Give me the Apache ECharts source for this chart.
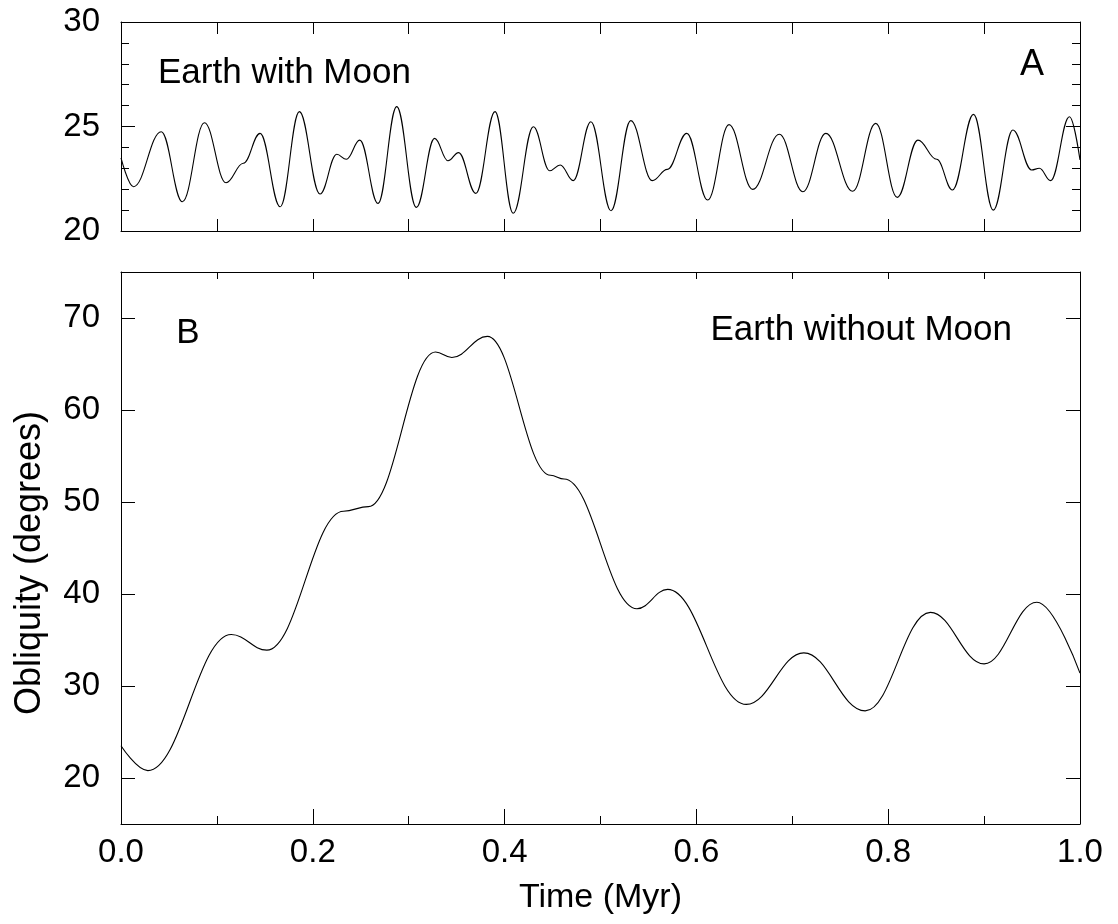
<!DOCTYPE html>
<html><head><meta charset="utf-8">
<script src="https://cdn.jsdelivr.net/npm/echarts@6/dist/echarts.min.js"></script>
<style>html,body{margin:0;padding:0;background:#fff}#c{width:1118px;height:924px}</style>
</head><body><div id="c"></div>
<script>
// Panel A: Earth with Moon (time in Myr, obliquity in degrees)
const timeWithMoon = [0, 0.013, 0.042, 0.064, 0.087, 0.1095, 0.1276, 0.145, 0.166, 0.186, 0.2075, 0.225, 0.235, 0.249, 0.268, 0.2875, 0.308, 0.327, 0.341, 0.352, 0.37, 0.39, 0.409, 0.43, 0.447, 0.458, 0.4716, 0.49, 0.511, 0.5315, 0.554, 0.5697, 0.59, 0.6117, 0.634, 0.6587, 0.6865, 0.711, 0.735, 0.763, 0.787, 0.8095, 0.831, 0.8506, 0.867, 0.889, 0.9096, 0.93, 0.9496, 0.9576, 0.9694, 0.989, 1.0];
const obliquityWithMoon = [23.5, 22.12, 24.75, 21.4, 25.18, 22.31, 23.24, 24.67, 21.16, 25.71, 21.77, 23.67, 23.43, 24.35, 21.32, 25.95, 21.13, 24.43, 23.36, 23.75, 21.8, 25.71, 20.85, 24.99, 22.88, 23.16, 22.41, 25.23, 20.97, 25.28, 22.41, 22.95, 24.67, 21.48, 25.09, 21.99, 24.63, 21.88, 24.67, 21.9, 25.15, 21.61, 24.35, 23.43, 21.96, 25.58, 21.0, 24.83, 22.92, 23.0, 22.41, 25.47, 23.4];
// Panel B: Earth without Moon
const timeWithoutMoon = [0, 0.028, 0.115, 0.152, 0.232, 0.258, 0.328, 0.345, 0.382, 0.448, 0.462, 0.538, 0.57, 0.652, 0.712, 0.776, 0.844, 0.9, 0.955, 1.0];
const obliquityWithoutMoon = [23.5, 20.8, 35.6, 33.9, 49.0, 49.5, 66.3, 65.7, 68.0, 52.9, 52.5, 38.4, 40.5, 28.0, 33.6, 27.3, 38.0, 32.4, 39.1, 31.4];
// tick labels
const xTickLabels = ['0.0', '0.2', '0.4', '0.6', '0.8', '1.0'];
const yTickLabelsA = ['20', '25', '30'];
const yTickLabelsB = ['20', '30', '40', '50', '60', '70'];
// texts
const panelALabel = 'A', panelBLabel = 'B';
const textA = 'Earth with Moon', textB = 'Earth without Moon';
const xTitle = 'Time (Myr)', yTitle = 'Obliquity (degrees)';

const FONT = "'Liberation Sans', Arial, sans-serif";
const black = '#000';

const chart = echarts.init(document.getElementById('c'), null, {renderer: 'canvas'});

function xAx(grid, pos, interval, tickLen, opts) {
  return Object.assign({
    type: 'value', gridIndex: grid, position: pos, min: 0, max: 1, interval: interval,
    axisLine: {show: true, onZero: false, lineStyle: {color: black, width: 1}},
    axisTick: {show: true, inside: true, length: tickLen, lineStyle: {color: black, width: 1}},
    axisLabel: {show: false}, splitLine: {show: false}
  }, opts || {});
}
function yAx(grid, pos, min, max, interval, opts) {
  return Object.assign({
    type: 'value', gridIndex: grid, position: pos, min: min, max: max, interval: interval,
    axisLine: {show: true, onZero: false, lineStyle: {color: black, width: 1}},
    axisTick: {show: true, inside: true, length: 14, lineStyle: {color: black, width: 1}},
    axisLabel: {show: false}, splitLine: {show: false}
  }, opts || {});
}
const labelStyle = {show: true, color: black, fontFamily: FONT, fontSize: 33};

const option = {
  animation: false,
  backgroundColor: '#fff',
  grid: [
    {left: 121, top: 22, width: 959, height: 209},
    {left: 121, top: 272, width: 959, height: 552},
    {left: 121, top: 318, width: 959, height: 460}
  ],
  xAxis: [
    xAx(0, 'bottom', 0.1, 12),
    xAx(0, 'top', 0.1, 12),
    xAx(1, 'bottom', 0.2, 15, {
      axisLabel: Object.assign({}, labelStyle, {margin: 12,
        formatter: v => xTickLabels[Math.round(v / 0.2)]}),
      minorTick: {show: true, splitNumber: 2, length: 8, lineStyle: {color: black, width: 1}},
      name: xTitle, nameLocation: 'middle', nameGap: 57,
      nameTextStyle: {color: black, fontFamily: FONT, fontSize: 34}
    }),
    xAx(1, 'top', 0.1, 7),
    xAx(2, 'bottom', 0.2, 0, {show: false})
  ],
  yAxis: [
    yAx(0, 'left', 20, 30, 5, {
      axisLabel: Object.assign({}, labelStyle, {margin: 21,
        formatter: v => yTickLabelsA[Math.round((v - 20) / 5)]}),
      minorTick: {show: true, splitNumber: 5, length: 8, lineStyle: {color: black, width: 1}}
    }),
    yAx(0, 'right', 20, 30, 5, {
      minorTick: {show: true, splitNumber: 5, length: 8, lineStyle: {color: black, width: 1}}
    }),
    yAx(1, 'left', 15, 75, 15, {axisTick: {show: false}}),
    yAx(1, 'right', 15, 75, 15, {axisTick: {show: false}}),
    yAx(2, 'left', 20, 70, 10, {
      axisLine: {show: false},
      axisLabel: Object.assign({}, labelStyle, {margin: 21,
        formatter: v => yTickLabelsB[Math.round((v - 20) / 10)]})
    }),
    yAx(2, 'right', 20, 70, 10, {axisLine: {show: false}})
  ],
  graphic: [
    {type: 'text', left: 158, top: 56, style: {text: textA, font: '35px ' + FONT, fill: black}},
    {type: 'text', x: 1032, y: 65, style: {text: panelALabel, font: '36px ' + FONT, fill: black, align: 'center', verticalAlign: 'middle'}},
    {type: 'text', x: 188, y: 333, style: {text: panelBLabel, font: '35px ' + FONT, fill: black, align: 'center', verticalAlign: 'middle'}},
    {type: 'text', x: 1012, y: 330, style: {text: textB, font: '35px ' + FONT, fill: black, align: 'right', verticalAlign: 'middle'}},
    {type: 'text', x: 30, y: 563, rotation: Math.PI / 2, style: {text: yTitle, font: '36px ' + FONT, fill: black, align: 'center', verticalAlign: 'middle'}}
  ],
  series: [
    {type: 'line', xAxisIndex: 0, yAxisIndex: 0, showSymbol: false, smooth: 0.4, smoothMonotone: 'x',
      lineStyle: {color: black, width: 1.1}, silent: true,
      data: timeWithMoon.map((t, i) => [t, obliquityWithMoon[i]])},
    {type: 'line', xAxisIndex: 2, yAxisIndex: 2, showSymbol: false, smooth: 0.4, smoothMonotone: 'x',
      lineStyle: {color: black, width: 1.1}, silent: true,
      data: timeWithoutMoon.map((t, i) => [t, obliquityWithoutMoon[i]])}
  ]
};
chart.setOption(option);
</script></body></html>
